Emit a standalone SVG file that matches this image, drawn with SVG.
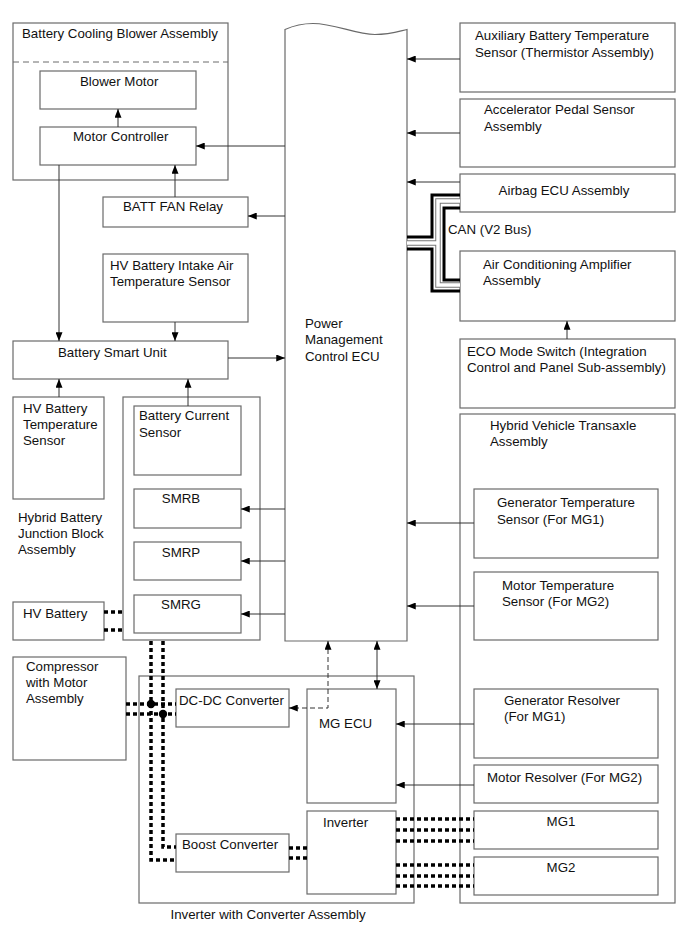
<svg xmlns="http://www.w3.org/2000/svg" width="689" height="950" viewBox="0 0 689 950">
<style>
  rect.b, path.b { fill: #fff; stroke: #6a6a6a; stroke-width: 1.2; }
  rect.c { fill: none; stroke: #6a6a6a; stroke-width: 1.2; }
  text { font-family: "Liberation Sans", Arial, sans-serif; font-size: 13.3px; fill: #111; }
  .m { text-anchor: middle; }
  .ln { fill: none; stroke: #333; stroke-width: 1; }
  .dash { fill: none; stroke: #333; stroke-width: 1; stroke-dasharray: 5 3; }
  .pw { fill: none; stroke: #000; stroke-width: 3.5; stroke-dasharray: 4 3; }
  .can { fill: none; stroke: #000; stroke-width: 3; }
</style>
<defs>
  <marker id="ah" viewBox="0 0 10 8" refX="10" refY="4" markerWidth="9" markerHeight="7" markerUnits="userSpaceOnUse" orient="auto-start-reverse">
    <path d="M0,0 L10,4 L0,8 Z" fill="#000"/>
  </marker>
</defs>
<rect width="689" height="950" fill="#fff"/>

<!-- containers -->
<g id="battery-cooling-blower-assembly">
  <rect class="c" x="13" y="23" width="215" height="157"/>
  <line x1="13" y1="62" x2="228" y2="62" stroke="#6a6a6a" stroke-width="1" stroke-dasharray="6 4"/>
  <text x="22" y="38">Battery Cooling Blower Assembly</text>
</g>
<g id="hybrid-battery-junction-block-assembly">
  <rect class="c" x="123" y="397" width="137" height="243"/>
  <text x="18" y="522">Hybrid Battery</text>
  <text x="18" y="538">Junction Block</text>
  <text x="18" y="554">Assembly</text>
</g>
<g id="inverter-with-converter-assembly">
  <rect class="c" x="139" y="676" width="275" height="227"/>
  <text class="m" x="268" y="919">Inverter with Converter Assembly</text>
</g>
<g id="hybrid-vehicle-transaxle-assembly">
  <rect class="c" x="460" y="414" width="215" height="489"/>
  <text x="490" y="430">Hybrid Vehicle Transaxle</text>
  <text x="490" y="446">Assembly</text>
</g>

<!-- nodes -->
<g id="blower-motor">
  <rect class="b" x="40" y="71" width="156" height="38"/>
  <text x="80" y="86">Blower Motor</text>
</g>
<g id="motor-controller">
  <rect class="b" x="40" y="127" width="156" height="38"/>
  <text x="73" y="141">Motor Controller</text>
</g>
<g id="batt-fan-relay">
  <rect class="b" x="103" y="197" width="145" height="30"/>
  <text x="123" y="211">BATT FAN Relay</text>
</g>
<g id="hv-battery-intake-air-temperature-sensor">
  <rect class="b" x="103" y="254" width="145" height="68"/>
  <text x="110" y="270">HV Battery Intake Air</text>
  <text x="110" y="286">Temperature Sensor</text>
</g>
<g id="battery-smart-unit">
  <rect class="b" x="13" y="341" width="215" height="38"/>
  <text x="58" y="357">Battery Smart Unit</text>
</g>
<g id="hv-battery-temperature-sensor">
  <rect class="b" x="13" y="397" width="91" height="102"/>
  <text x="23" y="413">HV Battery</text>
  <text x="23" y="429">Temperature</text>
  <text x="23" y="445">Sensor</text>
</g>
<g id="battery-current-sensor">
  <rect class="b" x="134" y="406" width="107" height="69"/>
  <text x="139" y="420">Battery Current</text>
  <text x="139" y="437">Sensor</text>
</g>
<g id="smrb">
  <rect class="b" x="134" y="489" width="107" height="39"/>
  <text class="m" x="181" y="503">SMRB</text>
</g>
<g id="smrp">
  <rect class="b" x="134" y="542" width="107" height="38"/>
  <text class="m" x="181" y="557">SMRP</text>
</g>
<g id="smrg">
  <rect class="b" x="134" y="595" width="107" height="38"/>
  <text class="m" x="181" y="609">SMRG</text>
</g>
<g id="hv-battery">
  <rect class="b" x="13" y="602" width="91" height="38"/>
  <text x="23" y="618">HV Battery</text>
</g>
<g id="compressor-with-motor-assembly">
  <rect class="b" x="13" y="657" width="113" height="103"/>
  <text x="26" y="671">Compressor</text>
  <text x="26" y="687">with Motor</text>
  <text x="26" y="703">Assembly</text>
</g>
<g id="dc-dc-converter">
  <rect class="b" x="176" y="689" width="113" height="38"/>
  <text x="179" y="705">DC-DC Converter</text>
</g>
<g id="boost-converter">
  <rect class="b" x="176" y="834" width="113" height="38"/>
  <text x="182" y="849">Boost Converter</text>
</g>
<g id="mg-ecu">
  <rect class="b" x="307" y="689" width="89" height="114"/>
  <text x="319" y="728">MG ECU</text>
</g>
<g id="inverter">
  <rect class="b" x="307" y="811" width="89" height="83"/>
  <text x="323" y="827">Inverter</text>
</g>
<g id="power-management-control-ecu">
  <path class="b" d="M285,29.5 C295,25 305,23.5 313,23.5 C335,23.5 355,34.5 375,34.5 C390,34.5 400,31 407,29.5 V641 H285 Z"/>
  <text x="305" y="328">Power</text>
  <text x="305" y="344">Management</text>
  <text x="305" y="361">Control ECU</text>
</g>
<g id="auxiliary-battery-temperature-sensor">
  <rect class="b" x="460" y="23" width="215" height="69"/>
  <text x="475" y="40">Auxiliary Battery Temperature</text>
  <text x="475" y="57">Sensor (Thermistor Assembly)</text>
</g>
<g id="accelerator-pedal-sensor-assembly">
  <rect class="b" x="460" y="99" width="215" height="68"/>
  <text x="484" y="114">Accelerator Pedal Sensor</text>
  <text x="484" y="131">Assembly</text>
</g>
<g id="airbag-ecu-assembly">
  <rect class="b" x="460" y="174" width="215" height="38"/>
  <text class="m" x="564" y="195">Airbag ECU Assembly</text>
</g>
<g id="air-conditioning-amplifier-assembly">
  <rect class="b" x="460" y="251" width="215" height="70"/>
  <text x="483" y="269">Air Conditioning Amplifier</text>
  <text x="483" y="285">Assembly</text>
</g>
<g id="eco-mode-switch">
  <rect class="b" x="460" y="339" width="215" height="69"/>
  <text x="467" y="356">ECO Mode Switch (Integration</text>
  <text x="467" y="372">Control and Panel Sub-assembly)</text>
</g>
<g id="generator-temperature-sensor">
  <rect class="b" x="474" y="489" width="184" height="69"/>
  <text x="497" y="507">Generator Temperature</text>
  <text x="497" y="524">Sensor (For MG1)</text>
</g>
<g id="motor-temperature-sensor">
  <rect class="b" x="474" y="572" width="184" height="68"/>
  <text x="502" y="590">Motor Temperature</text>
  <text x="502" y="606">Sensor (For MG2)</text>
</g>
<g id="generator-resolver">
  <rect class="b" x="474" y="689" width="184" height="69"/>
  <text x="504" y="705">Generator Resolver</text>
  <text x="504" y="721">(For MG1)</text>
</g>
<g id="motor-resolver">
  <rect class="b" x="474" y="765" width="184" height="38"/>
  <text x="487" y="782">Motor Resolver (For MG2)</text>
</g>
<g id="mg1">
  <rect class="b" x="474" y="811" width="184" height="38"/>
  <text class="m" x="561" y="826">MG1</text>
</g>
<g id="mg2">
  <rect class="b" x="474" y="857" width="184" height="38"/>
  <text class="m" x="561" y="872">MG2</text>
</g>

<!-- connectors -->
<g id="connectors">
  <path class="ln" marker-end="url(#ah)" d="M285,146 H196"/>
  <path class="ln" marker-end="url(#ah)" d="M285,216 H248"/>
  <path class="ln" marker-end="url(#ah)" d="M175,197 V165"/>
  <path class="ln" marker-end="url(#ah)" d="M118,127 V109"/>
  <path class="ln" marker-end="url(#ah)" d="M59,165 V341"/>
  <path class="ln" marker-end="url(#ah)" d="M175,322 V341"/>
  <path class="ln" marker-end="url(#ah)" d="M228,358 H285"/>
  <path class="ln" marker-end="url(#ah)" d="M59,397 V379"/>
  <path class="ln" marker-end="url(#ah)" d="M188,406 V379"/>
  <path class="ln" marker-end="url(#ah)" d="M285,509 H241"/>
  <path class="ln" marker-end="url(#ah)" d="M285,561 H241"/>
  <path class="ln" marker-end="url(#ah)" d="M285,614 H241"/>
  <path class="ln" marker-end="url(#ah)" d="M460,59 H407"/>
  <path class="ln" marker-end="url(#ah)" d="M460,133 H407"/>
  <path class="ln" marker-end="url(#ah)" d="M460,182 H407"/>
  <path class="ln" marker-end="url(#ah)" d="M567,339 V321"/>
  <path class="ln" marker-end="url(#ah)" d="M474,523 H407"/>
  <path class="ln" marker-end="url(#ah)" d="M474,606 H407"/>
  <path class="ln" marker-end="url(#ah)" d="M474,724 H396"/>
  <path class="ln" marker-end="url(#ah)" d="M474,785 H396"/>
  <path class="ln" marker-start="url(#ah)" marker-end="url(#ah)" d="M377,641 V689"/>
  <path class="dash" marker-start="url(#ah)" marker-end="url(#ah)" d="M328,641 V708 H289"/>

  <!-- CAN (V2 Bus) -->
  <path fill="none" stroke="#777" stroke-width="5.5" d="M407,243 H438 M460,201 H438 V285 H460"/>
  <path fill="none" stroke="#fff" stroke-width="3.5" d="M407,243 H438 M460,201 H438 V285 H460"/>
  <path class="can" d="M407,237 H432 V195 H460"/>
  <path class="can" d="M407,249 H432 V291 H460"/>
  <path class="can" d="M460,208 H444 V280 H460"/>

  <!-- power lines -->
  <path class="pw" d="M104,612 H123"/>
  <path class="pw" d="M104,630 H123"/>
  <path class="pw" d="M151,641 V860 H176"/>
  <path class="pw" d="M163,641 V847 H176"/>
  <path class="pw" d="M126,704 H176"/>
  <path class="pw" d="M126,714 H176"/>
  <circle cx="151" cy="704" r="4.2" fill="#000"/>
  <circle cx="163" cy="714" r="4.2" fill="#000"/>
  <path class="pw" d="M289,848 H307"/>
  <path class="pw" d="M289,858 H307"/>
  <path class="pw" d="M396,819 H474"/>
  <path class="pw" d="M396,830 H474"/>
  <path class="pw" d="M396,841 H474"/>
  <path class="pw" d="M396,865 H474"/>
  <path class="pw" d="M396,876 H474"/>
  <path class="pw" d="M396,886 H474"/>
</g>
<text x="448" y="234">CAN (V2 Bus)</text>
</svg>
